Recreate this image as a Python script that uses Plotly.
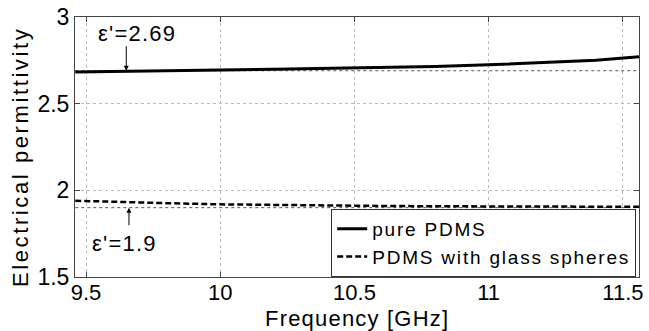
import plotly.graph_objects as go

freq = [9.46, 9.6, 9.8, 10.0, 10.2, 10.4, 10.6, 10.8, 11.0, 11.2, 11.4, 11.56]
pure_pdms = [2.682, 2.686, 2.690, 2.694, 2.698, 2.703, 2.708, 2.715, 2.724, 2.735, 2.750, 2.770]
glass_pdms = [1.940, 1.936, 1.926, 1.919, 1.915, 1.912, 1.910, 1.908, 1.907, 1.906, 1.905, 1.905]
ref_levels = [2.69, 1.9]
x_ticks = [9.5, 10, 10.5, 11, 11.5]
y_ticks = [1.5, 2, 2.5, 3]


def spaced(text, px):
    return f"<span style='letter-spacing:{px}px'>{text}</span>"


font = "Liberation Sans, Arial, sans-serif"
fig = go.Figure()
for lvl in ref_levels:
    fig.add_trace(go.Scatter(x=[freq[0], freq[-1]], y=[lvl, lvl], mode="lines",
                             line=dict(color="#555", width=1, dash="dot"),
                             showlegend=False, hoverinfo="skip"))
fig.add_trace(go.Scatter(x=freq, y=pure_pdms, mode="lines", name=spaced("pure PDMS", 1.8),
                         line=dict(color="black", width=3)))
fig.add_trace(go.Scatter(x=freq, y=glass_pdms, mode="lines",
                         name=spaced("PDMS with glass spheres", 1.8),
                         line=dict(color="black", width=2.5, dash="6px,3px")))

fig.add_annotation(x=9.65, y=2.69, ax=9.65, ay=2.84, xref="x", yref="y", axref="x", ayref="y",
                   text="", showarrow=True, arrowhead=2, arrowsize=1, arrowwidth=1, arrowcolor="black")
fig.add_annotation(x=9.69, y=2.905, text=spaced("ε'=2.69", 1.2), showarrow=False,
                   font=dict(size=22, color="black", family=font))
fig.add_annotation(x=9.66, y=1.9, ax=9.66, ay=1.79, xref="x", yref="y", axref="x", ayref="y",
                   text="", showarrow=True, arrowhead=2, arrowsize=1, arrowwidth=1, arrowcolor="black")
fig.add_annotation(x=9.645, y=1.695, text=spaced("ε'=1.9", 1.2), showarrow=False,
                   font=dict(size=22, color="black", family=font))
# axis titles placed as text
fig.add_annotation(x=0.5, y=0, xref="paper", yref="paper", yanchor="middle", yshift=-41,
                   text=spaced("Frequency [GHz]", 1.2), showarrow=False,
                   font=dict(size=22, color="black", family=font))
fig.add_annotation(x=0, y=0.4615, xref="paper", yref="paper", xanchor="center", yanchor="middle",
                   xshift=-55, textangle=-90,
                   text=spaced("Electrical permittivity", 2.6), showarrow=False,
                   font=dict(size=22, color="black", family=font))

fig.update_layout(
    width=649, height=331, margin=dict(l=75, r=10, t=17, b=54),
    paper_bgcolor="white", plot_bgcolor="white",
    font=dict(family=font, size=22, color="black"),
    legend=dict(x=0.995, y=0, xanchor="right", yanchor="bottom", bordercolor="#333", borderwidth=1,
                bgcolor="white", font=dict(size=19), tracegroupgap=0, itemwidth=30),
)
fig.update_xaxes(range=[9.459, 11.56], tickvals=x_ticks, ticktext=[str(v) for v in x_ticks],
                 showline=True, linecolor="#444", mirror="ticks", ticks="inside", ticklen=5,
                 showgrid=True, gridcolor="#bbb", griddash="dot", zeroline=False, automargin=False,
                 ticklabelstandoff=-4, tickfont=dict(size=22))
fig.update_yaxes(range=[1.5, 3], tickvals=y_ticks, ticktext=["1.5", "2", "2.5", "3"],
                 showline=True, linecolor="#444", mirror="ticks", ticks="inside", ticklen=5,
                 showgrid=True, gridcolor="#bbb", griddash="dot", zeroline=False, automargin=False,
                 tickfont=dict(size=23))
fig.write_html("out.html")
